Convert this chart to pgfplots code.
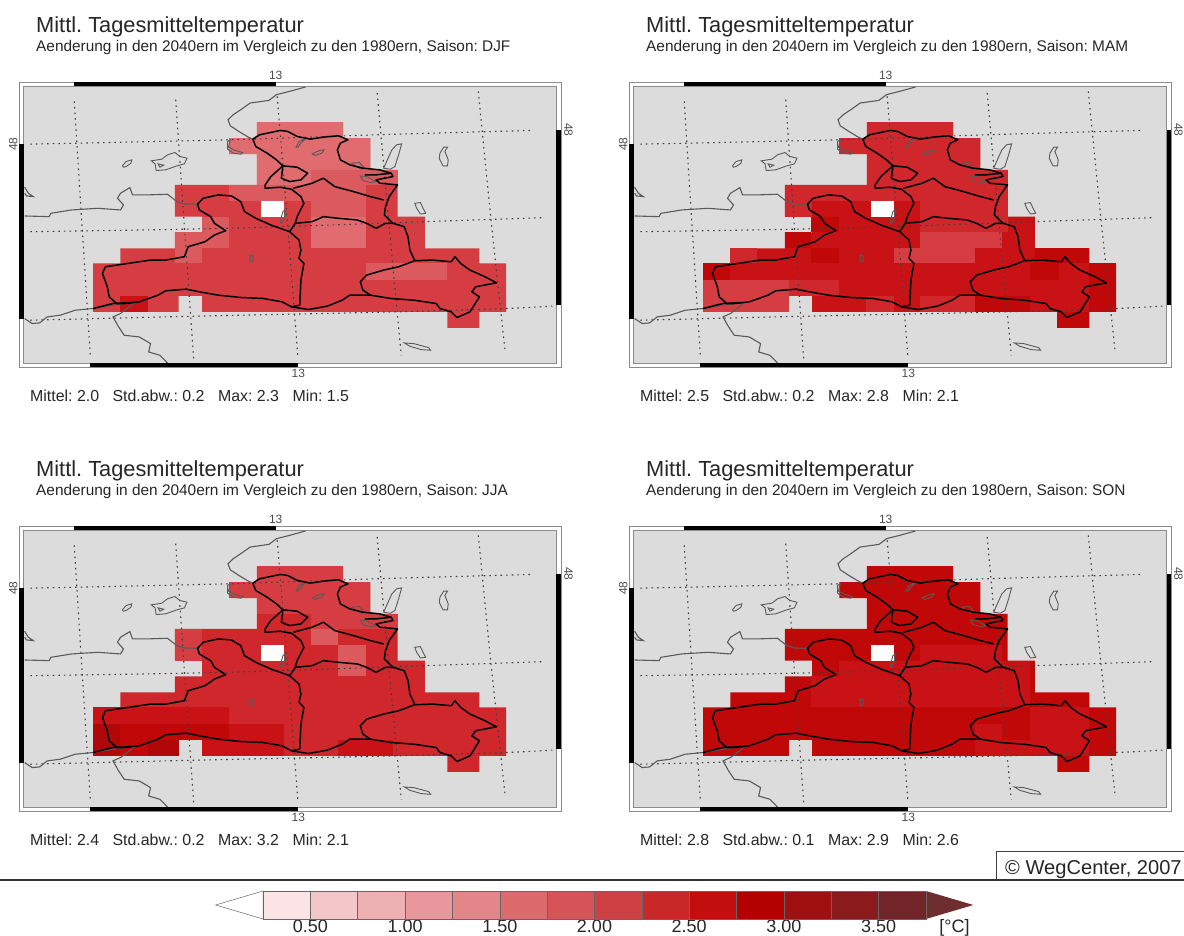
\documentclass[border=0pt]{standalone}
\usepackage{fontspec}
\setmainfont{Liberation Sans}
\usepackage{pgfplots}
\pgfplotsset{compat=1.18}
\definecolor{c1}{HTML}{FBE3E6}\definecolor{c2}{HTML}{F4C6CA}\definecolor{c3}{HTML}{EDB0B3}
\definecolor{c4}{HTML}{E8989D}\definecolor{c5}{HTML}{E38689}\definecolor{c6}{HTML}{DD6B6E}
\definecolor{c7}{HTML}{D65458}\definecolor{c8}{HTML}{CE4044}\definecolor{c9}{HTML}{C92829}
\definecolor{c10}{HTML}{C30E10}\definecolor{c11}{HTML}{B30000}\definecolor{c12}{HTML}{A01010}
\definecolor{c13}{HTML}{8B1A1C}\definecolor{c14}{HTML}{732428}\definecolor{c15}{HTML}{6E2E30}
\definecolor{mA}{HTML}{E06C70}\definecolor{mB}{HTML}{DA5A5E}\definecolor{mC}{HTML}{D63D42}
\definecolor{mD}{HTML}{CF272B}\definecolor{mE}{HTML}{C91216}\definecolor{mF}{HTML}{C00808}
\definecolor{mG}{HTML}{B00808}
\definecolor{bgmap}{HTML}{DCDCDC}\definecolor{frm}{HTML}{8C8C8C}\definecolor{coast}{HTML}{5A5A5A}
\newcommand\rc[5]{\addplot[fill=#1,draw=none,forget plot] coordinates {(#2,#3)(#4,#3)(#4,#5)(#2,#5)} --cycle;}
\newcommand\blk[4]{\addplot[fill=black,draw=none,forget plot] coordinates {(#1,#2)(#3,#2)(#3,#4)(#1,#4)} --cycle;}
\newcommand\cb[3]{\addplot[fill=#1,draw=black!60,line width=0.5pt,forget plot] coordinates {(#2,0)(#3,0)(#3,1)(#2,1)} --cycle;}
\newcommand\mapbg{%
 \addplot[draw=frm,fill=white,line width=0.9pt,forget plot] coordinates {(50,67)(1492,67)(1492,920)(50,920)} --cycle;
 \addplot[draw=frm,fill=bgmap,line width=0.9pt,forget plot] coordinates {(63,80)(1480,80)(1480,908)(63,908)} --cycle;
 \blk{195}{67}{733}{80}\blk{240}{908}{793}{920}\blk{50}{254}{63}{776}\blk{1480}{210}{1492}{735}%
 \node[font=\fontsize{12}{12}\selectfont,text=black!70] at (axis cs:733,48) {13};
 \node[font=\fontsize{12}{12}\selectfont,text=black!70] at (axis cs:793,940) {13};
 \node[font=\fontsize{12}{12}\selectfont,text=black!70,rotate=90] at (axis cs:35,253) {48};
 \node[font=\fontsize{12}{12}\selectfont,text=black!70,rotate=-90] at (axis cs:1512,210) {48};
}
\newcommand\mask[1]{\addplot[fill=#1,draw=none,forget plot] coordinates {(683,187)(912,187)(912,235)(985,235)(985,330)(1057,330)(1057,470)(1130,470)(1130,565)(1275,565)(1275,610)(1346,610)(1346,755)(1275,755)(1275,803)(1190,803)(1190,755)(537,755)(537,707)(475,707)(475,755)(247,755)(247,610)(320,610)(320,565)(465,565)(465,517)(537,517)(537,470)(465,470)(465,375)(683,375)(683,283)(610,283)(610,235)(683,235)} --cycle;}
\pgfplotsset{
 gridl/.style={color=black!75,line width=1.1pt,dash pattern=on 1.6pt off 4pt,forget plot,smooth},
 cst/.style={color=coast,line width=1.1pt,forget plot},
 lake/.style={color=coast,line width=0.9pt,forget plot},
 bord/.style={color=black,line width=1.5pt,forget plot,line join=round},
}
\newcommand\maplines{%
 % graticule
 \addplot[gridl] coordinates {(80,253)(610,240)(1000,225)(1415,212)};
 \addplot[gridl] coordinates {(80,515)(600,505)(1130,485)(1445,473)};
 \addplot[gridl] coordinates {(80,780)(520,768)(1050,755)(1345,745)(1480,737)};
 \addplot[gridl] coordinates {(197,125)(215,450)(240,890)};
 \addplot[gridl] coordinates {(467,120)(490,500)(515,900)};
 \addplot[gridl] coordinates {(737,110)(765,500)(792,890)};
 \addplot[gridl] coordinates {(1003,100)(1035,500)(1067,885)};
 \addplot[gridl] coordinates {(1272,95)(1305,470)(1343,870)};
 % coasts and outer borders
 \addplot[cst] coordinates {(812,82)(770,95)(735,105)(715,122)(665,130)(640,150)(620,165)(606,180)(612,198)(635,215)(660,232)(672,238)};
 \addplot[cst] coordinates {(65,468)(130,470)(135,460)(190,450)(260,445)(320,450)(328,435)(312,415)(320,400)(345,383)(352,405)(390,405)(445,403)(470,425)(490,432)(525,433)};
 \addplot[cst] coordinates {(65,775)(85,790)(105,788)(125,770)(160,765)(200,750)(247,745)(300,735)(350,727)};
 \addplot[cst] coordinates {(355,730)(320,760)(300,770)(315,800)(330,825)(370,830)(400,850)(395,875)(425,885)(445,908)};
 \addplot[cst] coordinates {(65,382)(75,400)(88,410)(70,408)(65,400)};
 % lakes
 \addplot[lake] coordinates {(325,318)(335,305)(350,300)(348,310)(335,320)(328,322)} --cycle;
 \addplot[lake] coordinates {(402,303)(430,298)(445,285)(465,278)(478,290)(497,295)(490,312)(470,318)(440,330)(415,332)(412,312)} --cycle;
 \addplot[lake] coordinates {(420,312)(435,316)(425,322)} --cycle;
 \addplot[lake] coordinates {(1020,325)(1030,300)(1042,270)(1055,255)(1068,252)(1060,285)(1050,320)(1038,328)} --cycle;
 \addplot[lake] coordinates {(1170,280)(1180,262)(1190,262)(1183,275)(1192,300)(1190,318)(1178,318)(1168,295)} --cycle;
 \addplot[lake] coordinates {(1103,430)(1118,428)(1125,445)(1132,460)(1118,462)(1108,445)} --cycle;
 \addplot[lake] coordinates {(1075,848)(1100,850)(1140,862)(1145,870)(1120,868)(1090,858)} --cycle;
 \addplot[lake] coordinates {(605,245)(612,240)(608,262)(625,272)(645,278)(640,283)(620,280)(605,268)} --cycle;
 \addplot[lake] coordinates {(665,585)(672,585)(673,603)(665,605)} --cycle;
 \addplot[lake] coordinates {(830,282)(850,272)(862,270)(855,280)(838,287)} --cycle;
 \addplot[lake] coordinates {(787,262)(795,245)(812,237)(800,250)(792,262)} --cycle;
 \addplot[lake] coordinates {(935,310)(955,308)(970,325)(960,328)(945,318)} --cycle;
 \addplot[lake] coordinates {(958,348)(975,350)(1000,365)(985,368)(965,362)} --cycle;
 \addplot[lake] coordinates {(745,485)(752,455)(758,450)(755,478)(748,490)} --cycle;
 % provincial borders
 \addplot[bord] coordinates {(247,745)(300,730)(350,727)};
 \addplot[bord] coordinates {(672,238)(690,225)(720,218)(745,212)(765,215)(790,230)(825,238)(860,232)(900,228)(925,240)(905,250)(897,270)(905,300)(930,315)(965,325)(1010,330)(1040,340)(1045,350)(1000,360)(1010,370)(1057,375)(1035,410)(1025,440)(1022,465)(1045,490)(1075,500)(1085,530)(1090,570)(1103,602)};
 \addplot[bord] coordinates {(672,238)(680,260)(710,280)(735,300)(752,318)(720,350)(705,375)(705,385)(745,382)(775,388)(800,410)(808,430)(790,470)(785,490)};
 \addplot[bord] coordinates {(752,318)(790,322)(818,340)(800,360)(770,365)(748,355)(752,318)};
 \addplot[bord] coordinates {(780,385)(830,370)(860,355)(890,380)(940,395)(985,410)(1020,420)};
 \addplot[bord] coordinates {(970,345)(1000,345)(1040,340)};
 \addplot[bord] coordinates {(525,433)(540,415)(580,405)(615,408)(640,425)(650,455)(680,475)(720,495)(770,515)(795,540)(800,570)(795,595)(808,610)(800,660)(797,735)};
 \addplot[bord] coordinates {(525,433)(530,450)(560,470)(570,490)(600,512)(570,525)(545,545)(500,560)(490,590)(440,600)(400,600)(340,610)(280,620)(272,640)(285,680)(290,710)(310,730)(330,730)(370,725)(420,705)(440,692)(495,687)(530,695)(580,705)(640,712)(700,715)(750,725)(775,740)(797,735)};
 \addplot[bord] coordinates {(775,740)(820,748)(870,738)(910,720)(930,705)(985,705)(1040,715)(1100,720)(1160,730)(1170,745)(1200,755)(1215,772)(1250,755)(1275,710)(1255,695)(1265,680)(1320,668)(1290,650)(1250,630)(1225,610)(1210,590)(1200,605)(1150,600)(1103,602)};
 \addplot[bord] coordinates {(1103,602)(1060,620)(1020,630)(975,645)(958,665)(965,690)(985,705)};
 \addplot[bord] coordinates {(785,490)(830,485)(860,470)(900,475)(950,480)(975,490)(1000,505)(1025,490)(1045,490)};
 \addplot[bord] coordinates {(770,515)(785,490)};
}
\newcommand\panelhole{\rc{white}{695}{423}{755}{470}}
\pgfplotsset{panel/.style={hide axis,scale only axis,width=542pt,height=285pt,xmin=50,xmax=1492,ymin=67,ymax=920,y dir=reverse,clip=false,anchor=south west}}
\newcommand\stt[4]{Mittel: #1\hspace{13.5pt}Std.abw.: #2\hspace{13.5pt}Max: #3\hspace{13.5pt}Min: #4}
\newcommand\ptxt[4]{% x, y-baseline title, season, stats
 \node[anchor=base west,inner sep=0,font=\fontsize{21.8}{22}\selectfont,text=black!85] at (#1,936-#2) {Mittl. Tagesmitteltemperatur};
 \node[anchor=base west,inner sep=0,font=\fontsize{15.4}{16}\selectfont,text=black!85] at (#1,936-#2-19) {Aenderung in den 2040ern im Vergleich zu den 1980ern, Saison: #3};
 \node[anchor=base west,inner sep=0,font=\fontsize{15.9}{16}\selectfont,text=black!85] at (#1-6,936-#2-369) {#4};
}
\begin{document}
\frenchspacing
\begin{tikzpicture}[x=1pt,y=1pt]
\useasboundingbox (0,0) rectangle (1184,936);
% Panel DJF
\begin{axis}[panel,at={(19pt,569pt)}]
 \mapbg\mask{mC}
 \rc{mA}{683}{187}{912}{235}\rc{mA}{610}{235}{985}{283}\rc{mA}{683}{283}{985}{330}\rc{mA}{683}{330}{828}{375}
 \rc{mB}{828}{330}{1057}{375}\rc{mB}{610}{375}{828}{423}\rc{mB}{828}{375}{973}{470}
 \rc{mB}{537}{470}{610}{517}\rc{mB}{465}{517}{610}{565}\rc{mB}{465}{565}{537}{610}\rc{mB}{973}{610}{1190}{660}
 \rc{mA}{828}{470}{973}{565}\rc{mE}{320}{707}{392}{755}
 \panelhole\maplines
\end{axis}
% Panel MAM
\begin{axis}[panel,at={(629pt,569pt)}]
 \mapbg\mask{mE}
 \rc{mD}{683}{187}{912}{235}\rc{mD}{610}{235}{985}{283}\rc{mD}{683}{283}{985}{330}\rc{mD}{683}{330}{1057}{375}
 \rc{mD}{465}{375}{1057}{423}\rc{mD}{465}{423}{537}{470}\rc{mD}{825}{423}{1057}{470}\rc{mD}{825}{470}{1057}{517}
 \rc{mD}{318}{565}{391}{610}\rc{mD}{464}{660}{608}{707}\rc{mD}{681}{707}{754}{755}\rc{mD}{825}{707}{971}{755}
 \rc{mC}{825}{517}{1042}{565}\rc{mC}{754}{565}{971}{610}\rc{mC}{247}{660}{475}{755}
 \rc{mF}{535}{470}{608}{517}\rc{mF}{465}{517}{535}{565}\rc{mF}{535}{565}{608}{610}\rc{mF}{1130}{565}{1275}{610}
 \rc{mF}{1117}{610}{1193}{660}\rc{mF}{1275}{610}{1346}{755}\rc{mF}{1190}{755}{1275}{803}\rc{mF}{971}{707}{1117}{755}\rc{mF}{247}{610}{320}{660}
 \panelhole\maplines
\end{axis}
% Panel JJA
\begin{axis}[panel,at={(19pt,125pt)}]
 \mapbg\mask{mD}
 \rc{mC}{683}{187}{912}{235}\rc{mC}{610}{235}{985}{283}\rc{mC}{683}{283}{985}{330}\rc{mC}{828}{330}{1057}{375}\rc{mC}{465}{375}{537}{470}
 \rc{mB}{828}{375}{900}{423}\rc{mB}{900}{423}{973}{517}
 \rc{mE}{247}{610}{610}{660}\rc{mE}{610}{660}{755}{707}\rc{mE}{537}{707}{755}{755}\rc{mE}{900}{707}{1045}{755}
 \rc{mF}{320}{660}{610}{707}\rc{mF}{320}{707}{392}{755}
 \rc{mG}{247}{660}{320}{755}\rc{mG}{392}{707}{475}{755}
 \panelhole\maplines
\end{axis}
% Panel SON
\begin{axis}[panel,at={(629pt,125pt)}]
 \mapbg\mask{mF}
 \rc{mE}{608}{470}{825}{610}\rc{mE}{535}{517}{608}{610}\rc{mE}{825}{423}{1042}{610}\rc{mE}{1042}{470}{1117}{610}
 \rc{mE}{1117}{610}{1275}{660}\rc{mE}{971}{660}{1042}{755}\rc{mE}{1117}{660}{1275}{755}\rc{mE}{1042}{707}{1117}{755}
 \panelhole\maplines
\end{axis}
\ptxt{36}{33}{DJF}{\stt{2.0}{0.2}{2.3}{1.5}}
\ptxt{646}{33}{MAM}{\stt{2.5}{0.2}{2.8}{2.1}}
\ptxt{36}{477}{JJA}{\stt{2.4}{0.2}{3.2}{2.1}}
\ptxt{646}{477}{SON}{\stt{2.8}{0.1}{2.9}{2.6}}
% copyright box and rule
\draw[black!75,line width=0.9pt] (1190,56) -- (996,56) -- (996,85) -- (1190,85);
\node[anchor=base west,inner sep=0,font=\fontsize{20.1}{21}\selectfont,text=black!85] at (1005,61) {© WegCenter, 2007};
\draw[black!80,line width=1.6pt] (0,56) -- (1184,56);
% colour bar
\begin{axis}[scale only axis,width=663pt,height=28pt,at={(263pt,17pt)},anchor=south west,
 xmin=0.25,xmax=3.75,ymin=0,ymax=1,clip=false,ytick=\empty,axis line style={draw=none},
 xtick={0.5,1,1.5,2,2.5,3,3.5},xticklabels={0.50,1.00,1.50,2.00,2.50,3.00,3.50},
 major tick length=0pt,xticklabel style={font=\fontsize{18}{18}\selectfont,text=black!85,inner sep=0pt,yshift=-1pt},]
 \addplot[fill=white,draw=black!60,line width=0.5pt,forget plot] coordinates {(0.25,0)(0,0.5)(0.25,1)} --cycle;
 \addplot[fill=c15,draw=none,forget plot] coordinates {(3.75,0)(4,0.5)(3.75,1)} --cycle;
 \cb{c1}{0.25}{0.5}\cb{c2}{0.5}{0.75}\cb{c3}{0.75}{1}\cb{c4}{1}{1.25}\cb{c5}{1.25}{1.5}\cb{c6}{1.5}{1.75}\cb{c7}{1.75}{2}
 \cb{c8}{2}{2.25}\cb{c9}{2.25}{2.5}\cb{c10}{2.5}{2.75}\cb{c11}{2.75}{3}\cb{c12}{3}{3.25}\cb{c13}{3.25}{3.5}\cb{c14}{3.5}{3.75}
 \node[anchor=base,font=\fontsize{18}{18}\selectfont,text=black!85] at (axis cs:3.90,-0.48) {[°C]};
\end{axis}
\end{tikzpicture}
\end{document}
